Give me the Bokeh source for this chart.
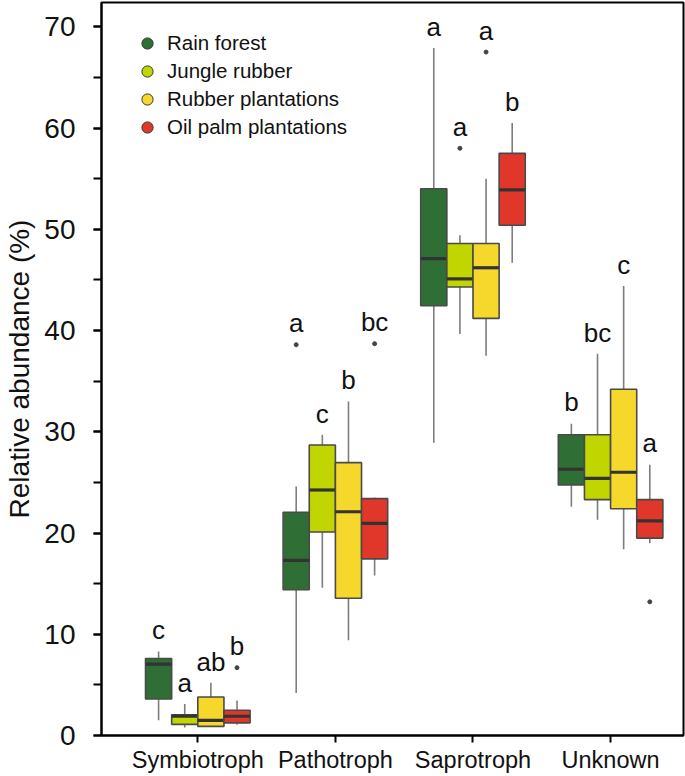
import numpy as np
from bokeh.plotting import figure
from bokeh.models import (ColumnDataSource, Range1d, FixedTicker, SingleIntervalTicker,
                          Legend, LegendItem)
from bokeh.core.properties import value
from bokeh.embed import file_html
from bokeh.resources import INLINE

# ---------------- data ----------------
categories = ["Symbiotroph", "Pathotroph", "Saprotroph", "Unknown"]
habitats = ["Rain forest", "Jungle rubber", "Rubber plantations", "Oil palm plantations"]
colors = ["#2f6e35", "#c1d600", "#f6d82c", "#e1372b"]

# per habitat, values for the four categories
whisker_low = {
    "Rain forest":          [1.5, 4.2, 28.9, 22.6],
    "Jungle rubber":        [0.8, 14.6, 39.65, 21.3],
    "Rubber plantations":   [0.85, 9.4, 37.5, 18.4],
    "Oil palm plantations": [1.05, 15.8, 46.7, 19.0],
}
q1 = {
    "Rain forest":          [3.6, 14.4, 42.45, 24.75],
    "Jungle rubber":        [1.1, 20.1, 44.3, 23.3],
    "Rubber plantations":   [0.9, 13.55, 41.2, 22.4],
    "Oil palm plantations": [1.25, 17.45, 50.4, 19.5],
}
median = {
    "Rain forest":          [7.05, 17.3, 47.1, 26.3],
    "Jungle rubber":        [1.9, 24.25, 45.1, 25.4],
    "Rubber plantations":   [1.5, 22.1, 46.2, 26.0],
    "Oil palm plantations": [1.9, 20.95, 53.9, 21.2],
}
q3 = {
    "Rain forest":          [7.6, 22.05, 54.0, 29.7],
    "Jungle rubber":        [2.05, 28.7, 48.6, 29.7],
    "Rubber plantations":   [3.8, 26.95, 48.6, 34.2],
    "Oil palm plantations": [2.5, 23.4, 57.5, 23.3],
}
whisker_high = {
    "Rain forest":          [8.3, 24.6, 67.9, 30.8],
    "Jungle rubber":        [3.1, 29.7, 49.4, 37.7],
    "Rubber plantations":   [5.2, 33.0, 55.0, 44.4],
    "Oil palm plantations": [3.45, 23.5, 60.5, 26.75],
}
# outliers: habitat -> list of (category, value)
outliers = {
    "Rain forest":          [("Pathotroph", 38.6)],
    "Jungle rubber":        [("Saprotroph", 58.0)],
    "Rubber plantations":   [("Saprotroph", 67.5)],
    "Oil palm plantations": [("Symbiotroph", 6.7), ("Pathotroph", 38.7), ("Unknown", 13.2)],
}
letters = {
    "Rain forest":          ["c", "a", "a", "b"],
    "Jungle rubber":        ["a", "c", "a", "bc"],
    "Rubber plantations":   ["ab", "b", "a", "c"],
    "Oil palm plantations": ["b", "bc", "b", "a"],
}

# ---------------- figure ----------------
FONT = "Liberation Sans"
BOX_W = 0.19

p = figure(width=685, height=776, output_backend="svg", toolbar_location=None,
           x_range=Range1d(0.30, 4.53), y_range=Range1d(0, 72.4),
           min_border_left=101, min_border_right=2, min_border_top=2, min_border_bottom=41)
p.xgrid.visible = False
p.ygrid.visible = False
p.outline_line_color = "black"
p.outline_line_width = 2
p.outline_line_alpha = 1.0

legend_items = []
xpos = np.arange(1, len(categories) + 1, dtype=float)
for i, (hab, col) in enumerate(zip(habitats, colors)):
    off = (i - 1.5) * BOX_W
    x = xpos + off
    lo = np.array(whisker_low[hab]); hi = np.array(whisker_high[hab])
    a = np.array(q1[hab]); b = np.array(q3[hab]); m = np.array(median[hab])
    src = ColumnDataSource(dict(x=x, lo=lo, hi=hi, q1=a, q3=b, med=m,
                                xl=x - BOX_W / 2, xr=x + BOX_W / 2))
    p.segment(x0="x", y0="lo", x1="x", y1="q1", source=src, line_color="#7d7d7d", line_width=1.6)
    p.segment(x0="x", y0="q3", x1="x", y1="hi", source=src, line_color="#7d7d7d", line_width=1.6)
    p.vbar(x="x", width=BOX_W, top="q3", bottom="q1", source=src, fill_color=col,
           line_color="#4a4a4a", line_width=1.6)
    p.segment(x0="xl", y0="med", x1="xr", y1="med", source=src, line_color="#333333", line_width=3.2)

    ox = [xpos[categories.index(c)] + off for c, v in outliers[hab]]
    oy = [v for c, v in outliers[hab]]
    p.scatter(x=ox, y=oy, size=4, color="#444444")

    # significance letters placed above the highest point of each box
    top = hi.copy()
    for c, v in outliers[hab]:
        k = categories.index(c)
        top[k] = max(top[k], v)
    lsrc = ColumnDataSource(dict(x=x, y=top + 2.1, t=letters[hab]))
    p.text(x="x", y="y", text="t", source=lsrc, text_font=value(FONT),
           text_font_size="26px", text_align="center", text_baseline="alphabetic",
           text_color="#111111")

    dummy = p.scatter(x=[np.nan], y=[np.nan], fill_color=col, line_color="#333333",
                      line_width=1, size=12)
    legend_items.append(LegendItem(label=hab, renderers=[dummy]))

legend = Legend(items=legend_items, location=(30, 594), border_line_alpha=0,
                background_fill_alpha=0, padding=0, margin=0, spacing=0,
                glyph_height=28, glyph_width=32, label_standoff=4,
                label_text_font=FONT, label_text_font_size="20.5px", label_text_color="#111111")
p.add_layout(legend, "center")

# axes
p.xaxis.ticker = FixedTicker(ticks=list(xpos))
p.xaxis.major_label_overrides = {float(k): c for k, c in zip(xpos, categories)}
p.xaxis.major_label_overrides.update({int(k): c for k, c in zip(xpos, categories)})
p.xaxis.minor_tick_line_color = None
p.xaxis.major_tick_out = 7
p.xaxis.major_tick_in = 0
p.xaxis.major_label_standoff = 4
p.xaxis.major_label_text_font = FONT
p.xaxis.major_label_text_font_size = "23.5px"
p.xaxis.major_label_text_color = "#111111"

p.yaxis.ticker = SingleIntervalTicker(interval=10, num_minor_ticks=2)
p.yaxis.major_tick_out = 8
p.yaxis.major_tick_in = 0
p.yaxis.minor_tick_out = 8
p.yaxis.minor_tick_in = 0
p.yaxis.major_label_standoff = 18
p.yaxis.major_label_text_font = FONT
p.yaxis.major_label_text_font_size = "28px"
p.yaxis.major_label_text_color = "#111111"
p.yaxis.axis_label = "Relative abundance (%)"
p.yaxis.axis_label_text_font = FONT
p.yaxis.axis_label_text_font_size = "28px"
p.yaxis.axis_label_text_font_style = "normal"
p.yaxis.axis_label_text_color = "#111111"
p.yaxis.axis_label_standoff = 6

for ax in (p.xaxis, p.yaxis):
    ax.axis_line_color = "black"
    ax.axis_line_width = 2
    ax.major_tick_line_color = "black"
    ax.major_tick_line_width = 2
p.yaxis.minor_tick_line_color = "black"
p.yaxis.minor_tick_line_width = 2

open("out.html", "w").write(file_html(p, INLINE))
